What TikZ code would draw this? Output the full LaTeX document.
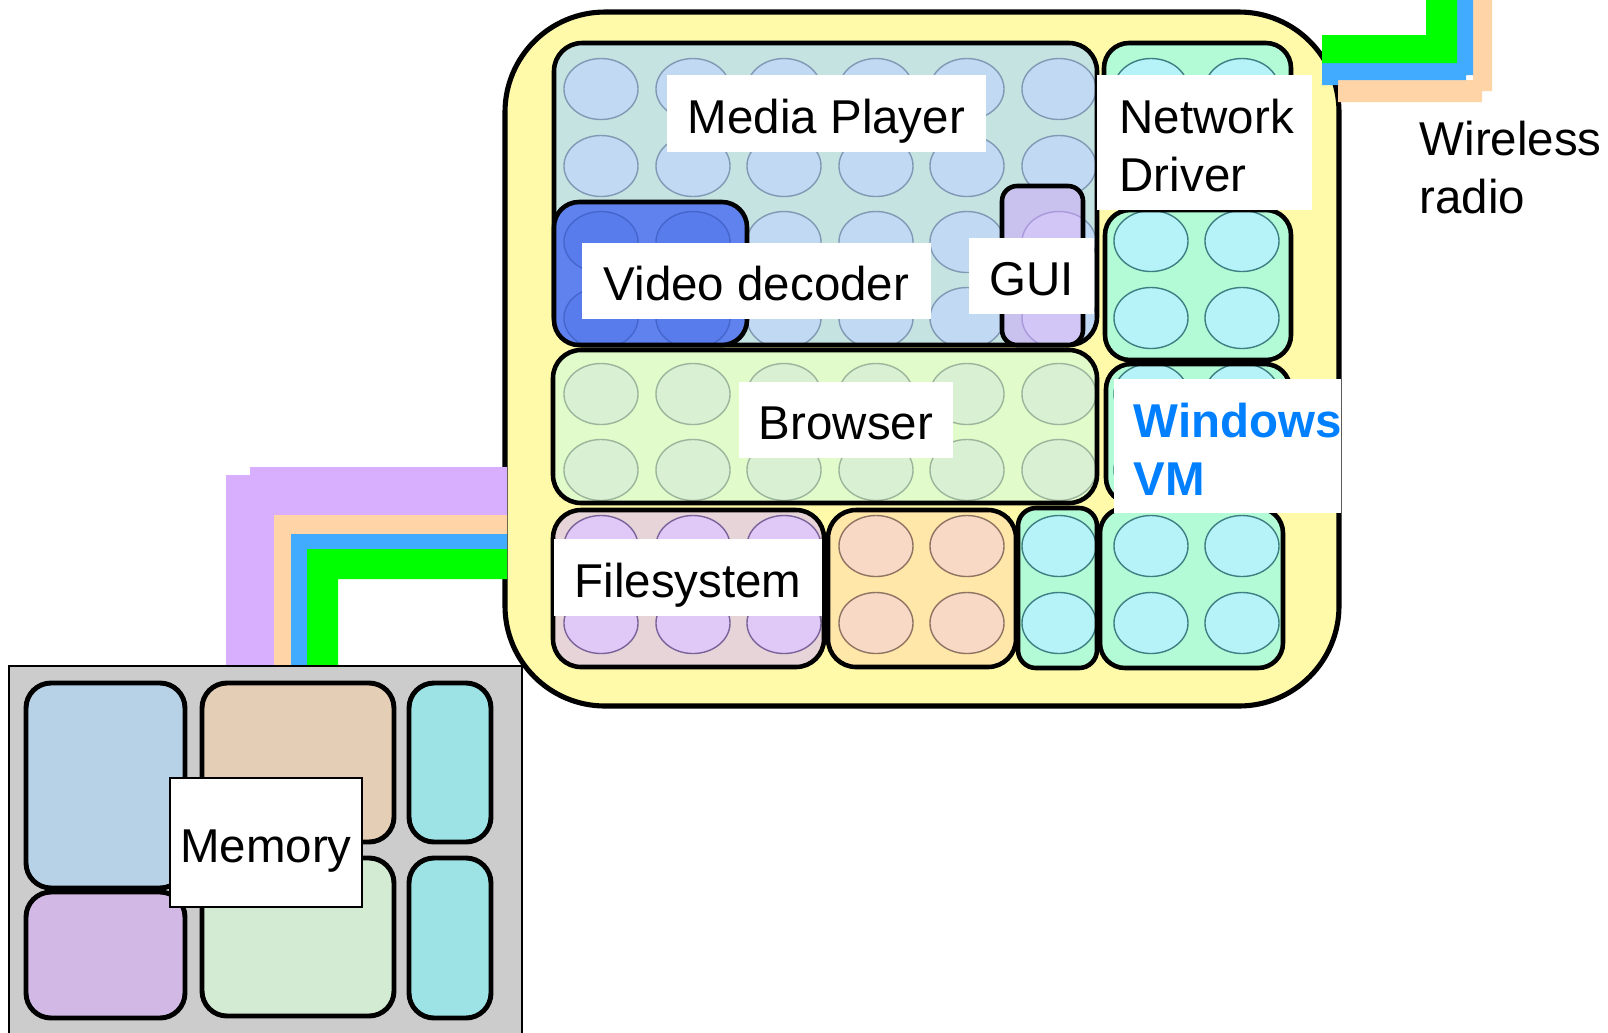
\documentclass[tikz,border=0pt]{standalone}
\usepackage{fontspec}
\setmainfont{Liberation Sans}
\definecolor{socY}{HTML}{FFFAAA}
\definecolor{mpF}{HTML}{C5E3E1}\definecolor{mpC}{HTML}{C2D9F3}\definecolor{mpB}{HTML}{8299B5}
\definecolor{vdF}{HTML}{5F82EF}\definecolor{vdC}{HTML}{587CEB}\definecolor{vdB}{HTML}{4466CC}
\definecolor{guF}{HTML}{C9C1EE}\definecolor{guC}{HTML}{D2C6F7}\definecolor{guB}{HTML}{AA99DD}
\definecolor{ntF}{HTML}{B3FBD6}\definecolor{ntC}{HTML}{B6F3F8}\definecolor{ntB}{HTML}{3E7F84}
\definecolor{brF}{HTML}{E1FBCB}\definecolor{brC}{HTML}{D9F0D2}\definecolor{brB}{HTML}{9CB59D}
\definecolor{fsF}{HTML}{E7D4D8}\definecolor{fsC}{HTML}{E0C9F7}\definecolor{fsB}{HTML}{7A639B}
\definecolor{orF}{HTML}{FFE6A9}\definecolor{orC}{HTML}{F7D9C6}\definecolor{orB}{HTML}{8E7462}
\definecolor{cPurple}{HTML}{D8AEFF}\definecolor{cPeach}{HTML}{FFD5A8}
\definecolor{cBlue}{HTML}{40ABFF}\definecolor{cGreen}{HTML}{00FF00}
\definecolor{winBlue}{HTML}{0080FF}
\definecolor{memGray}{HTML}{CCCCCC}
\definecolor{mBlue}{HTML}{B7D1E7}\definecolor{mPurple}{HTML}{D2B8E4}
\definecolor{mTan}{HTML}{E5CEB6}\definecolor{mGreen}{HTML}{D3EAD3}\definecolor{mCyan}{HTML}{9DE3E6}
\newcommand\cellblock[8]{%
  \fill[#6box, rounded corners=#5] (#1,#2) rectangle (#3,#4);
  \begin{scope}
    \clip[rounded corners=#5] (#1,#2) rectangle (#3,#4);
    \foreach \cx in {#7} \foreach \cy in {#8}
      \draw[#6cell] (\cx,\cy) ellipse[x radius=0.37cm, y radius=0.305cm];
  \end{scope}
  \draw[border, rounded corners=#5] (#1,#2) rectangle (#3,#4);
}
\begin{document}
\begin{tikzpicture}[x=0.01cm, y=-0.01cm,
  border/.style={draw=black, line width=1.3pt},
  cellbase/.style={line width=0.4pt},
  mpbox/.style={fill=mpF}, mpcell/.style={cellbase, fill=mpC, draw=mpB},
  vdbox/.style={fill=vdF}, vdcell/.style={cellbase, fill=vdC, draw=vdB},
  gubox/.style={fill=guF}, gucell/.style={cellbase, fill=guC, draw=guB},
  ntbox/.style={fill=ntF}, ntcell/.style={cellbase, fill=ntC, draw=ntB},
  brbox/.style={fill=brF}, brcell/.style={cellbase, fill=brC, draw=brB},
  fsbox/.style={fill=fsF}, fscell/.style={cellbase, fill=fsC, draw=fsB},
  orbox/.style={fill=orF}, orcell/.style={cellbase, fill=orC, draw=orB},
  membox/.style={draw=black, line width=1.4pt, rounded corners=0.25cm},
  txt/.style={inner sep=0pt, font=\fontsize{13.5}{16}\selectfont},
  lbl/.style={txt, fill=white, text height=0.39cm, text depth=0pt},
  cable/.style={draw=none}
]
\clip (0,0) rectangle (1608,1032);
\fill[white] (0,0) rectangle (1608,1032);

% ---- SoC outline
\draw[fill=socY, line width=1.45pt, rounded corners=1cm] (505,12) rectangle (1339,706);

% ---- Media player and contents
\cellblock{554}{43}{1097}{345}{0.28cm}{mp}{601,693,784,876,967,1059}{89,166,242,318}
\cellblock{554}{202}{747}{345}{0.25cm}{vd}{601,693}{242,318}
\cellblock{1002}{186}{1083}{345}{0.15cm}{gu}{1059}{242,318}

% ---- Network driver
\cellblock{1104}{43}{1291}{205}{0.25cm}{nt}{1151,1242}{89,166}
\cellblock{1105}{210}{1291}{360}{0.25cm}{nt}{1151,1242}{241,318}

% ---- Browser and Windows VM
\cellblock{553}{350}{1097}{503}{0.28cm}{br}{601,693,784,876,967,1059}{394,470}
\cellblock{1106}{364}{1290}{503}{0.25cm}{nt}{1151,1242}{394,470}

% ---- bottom row
\cellblock{553}{510}{824}{667}{0.28cm}{fs}{601,693,784}{546,623}
\cellblock{828}{510}{1016}{667}{0.28cm}{or}{876,967}{546,623}
\cellblock{1018}{508}{1097}{668}{0.18cm}{nt}{1059}{546,623}
\cellblock{1100}{508}{1283}{668}{0.25cm}{nt}{1151,1242}{546,623}

% ---- labels inside SoC
\node[lbl, minimum width=3.19cm, minimum height=0.77cm] (mplbl) at (826.5,113.5) {Media Player};
\node[lbl, minimum width=3.49cm, minimum height=0.76cm] (vdlbl) at (756.5,281) {Video decoder};
\node[lbl, minimum width=1.25cm, minimum height=0.76cm] (gulbl) at (1031.5,276) {GUI};
\node[lbl, minimum width=2.14cm, minimum height=0.76cm] (brlbl) at (846,420) {Browser};
\node[lbl, minimum width=2.68cm, minimum height=0.77cm] (fslbl) at (688,577.5) {Filesystem};
\node[fill=white, inner sep=0pt, minimum width=2.15cm, minimum height=1.35cm] (ntlbl) at (1204.5,142.5) {};
\node[txt, anchor=base west] (ntl1) at (1119,133) {Network};
\node[txt, anchor=base west] (ntl2) at (1119,191) {Driver};
\node[fill=white, inner sep=0pt, minimum width=2.27cm, minimum height=1.34cm] (winlbl) at (1227.5,446) {};
\node[txt, anchor=base west, text=winBlue, font=\fontsize{13.5}{16}\selectfont\bfseries] (winl1) at (1133,437) {Windows};
\node[txt, anchor=base west, text=winBlue, font=\fontsize{13.5}{16}\selectfont\bfseries] (winl2) at (1133,495) {VM};

% ---- cables to memory
\fill[cPurple] (226,666) -- (226,475) -- (250,475) -- (250,467) -- (507,467) -- (507,515) -- (274,515) -- (274,666) -- cycle;
\fill[cPeach] (274,666) -- (274,515) -- (507,515) -- (507,534) -- (291,534) -- (291,666) -- cycle;
\fill[cBlue] (291,666) -- (291,534) -- (507,534) -- (507,549) -- (307,549) -- (307,666) -- cycle;
\fill[cGreen] (307,666) -- (307,549) -- (507,549) -- (507,579) -- (338,579) -- (338,666) -- cycle;

% ---- cables to wireless radio
\fill[cPeach] (1338,102) -- (1338,80) -- (1473,80) -- (1473,0) -- (1492,0) -- (1492,91) -- (1482,91) -- (1482,102) -- cycle;
\fill[cBlue] (1322,85) -- (1322,63) -- (1457,63) -- (1457,0) -- (1473,0) -- (1473,75) -- (1466,75) -- (1466,80) -- (1338,80) -- (1338,85) -- cycle;
\fill[cGreen] (1322,63) -- (1322,35) -- (1426,35) -- (1426,0) -- (1457,0) -- (1457,63) -- cycle;
\node[txt, anchor=base west] (wl1) at (1419,155) {Wireless};
\node[txt, anchor=base west] (wl2) at (1419,213) {radio};

% ---- memory
\draw[fill=memGray, line width=0.5pt] (9,666) rectangle (522,1045);
\draw[membox, fill=mBlue] (26,683) rectangle (185,888);
\draw[membox, fill=mPurple] (26,892) rectangle (185,1018);
\draw[membox, fill=mTan] (202,683) rectangle (394,842);
\draw[membox, fill=mGreen] (202,858) rectangle (394,1016);
\draw[membox, fill=mCyan] (409,683) rectangle (491,842);
\draw[membox, fill=mCyan] (409,858) rectangle (491,1018);
\node[lbl, draw=black, line width=0.6pt, minimum width=1.92cm, minimum height=1.29cm] (memlbl) at (266,842.5) {Memory};
\end{tikzpicture}
\end{document}
